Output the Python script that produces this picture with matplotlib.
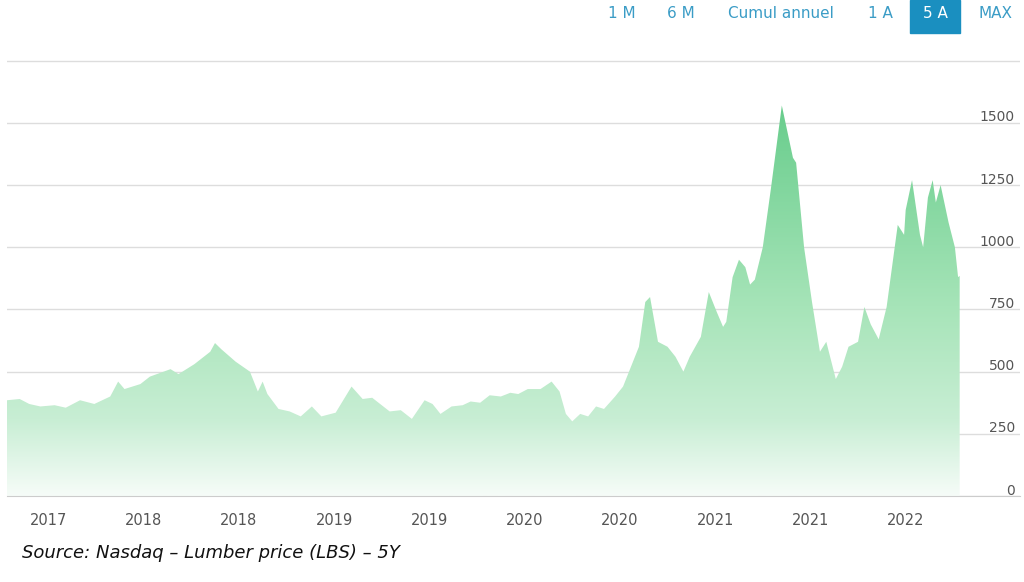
import numpy as np
import matplotlib
matplotlib.use("Agg")
import matplotlib.pyplot as plt
from matplotlib.colors import LinearSegmentedColormap
from matplotlib.patches import Rectangle
import matplotlib.transforms as mtransforms

# months since Jul 2017, lumber price
MONTHS = [0, 0.8, 1.4, 2.1, 3.0, 3.7, 4.6, 5.5, 6.5, 7.0, 7.4, 8.4, 9.0, 10.3, 10.8,
          11.8, 12.8, 13.1, 13.5, 14.4, 15.3, 15.8, 16.1, 16.4, 17.1, 17.8, 18.5,
          19.2, 19.8, 20.7, 21.7, 22.4, 23.0, 23.5, 24.1, 24.8, 25.5, 26.3, 26.8,
          27.3, 28.0, 28.7, 29.2, 29.8, 30.4, 31.1, 31.7, 32.2, 32.8, 33.6, 34.3,
          34.8, 35.2, 35.6, 36.1, 36.6, 37.1, 37.6, 38.3, 38.8, 39.3, 39.8, 40.2,
          40.5, 41.0, 41.6, 42.1, 42.6, 43.0, 43.7, 44.2, 44.7, 45.1, 45.3, 45.7,
          46.1, 46.5, 46.8, 47.1, 47.6, 48.1, 48.8, 49.5, 49.7, 50.2, 50.7, 51.2,
          51.6, 52.2, 52.6, 53.0, 53.6, 54.0, 54.4, 54.9, 55.4, 56.1, 56.5, 56.6,
          57.0, 57.5, 57.7, 58.0, 58.3, 58.5, 58.8, 59.3, 59.7, 59.9, 60.0]
PRICES = [385, 390, 370, 360, 365, 355, 385, 370, 400, 460, 430, 450, 480, 510, 490,
          530, 580, 615, 590, 540, 500, 420, 460, 410, 350, 340, 320, 360, 320,
          335, 440, 390, 395, 370, 340, 345, 310, 385, 370, 330, 360, 365, 380,
          375, 405, 400, 415, 410, 430, 430, 460, 420, 330, 300, 330, 320, 360,
          350, 400, 440, 520, 600, 780, 800, 620, 600, 560, 500, 560, 640, 820,
          740, 680, 700, 880, 950, 920, 850, 870, 1000, 1230, 1570, 1360, 1340,
          1000, 780, 580, 620, 470, 520, 600, 620, 760, 690, 630, 760, 1090, 1050,
          1150, 1270, 1050, 1000, 1200, 1270, 1180, 1250, 1100, 1000, 880, 885]

XTICK_POS = [2.6 + 6 * i for i in range(10)]
XTICK_LABELS = ["2017", "2018", "2018", "2019", "2019", "2020", "2020", "2021", "2021", "2022"]
YTICKS = [0, 250, 500, 750, 1000, 1250, 1500, 1750]
BUTTONS = ["1 M", "6 M", "Cumul annuel", "1 A", "5 A", "MAX"]
BUTTON_X = [622, 681, 781, 880, 935, 995]
ACTIVE = "5 A"

fig = plt.figure(figsize=(10.24, 5.82), dpi=100)
ax = fig.add_axes([7 / 1024, 1 - 496 / 582, (1020 - 7) / 1024, (496 - 60) / 582])
ax.set_xlim(0, 63.8)
ax.set_ylim(0, 1753)

# gradient fill clipped to the area
poly = ax.fill_between(MONTHS, PRICES, 0, color="none", lw=0)
cmap = LinearSegmentedColormap.from_list(
    "g", [(0, "#f6fcf8"), (0.18, "#c8eed4"), (0.45, "#a6e4b8"), (1, "#5ec985")])
grad = np.linspace(0, 1, 256).reshape(-1, 1)
im = ax.imshow(grad, cmap=cmap, origin="lower", aspect="auto",
               extent=[0, 60, 0, 1700], zorder=1)
path = poly.get_paths()[0]
im.set_clip_path(path, transform=ax.transData)

for y in YTICKS:
    ax.axhline(y, color="#dddddd", lw=1, zorder=0)

for s in ["top", "right", "left"]:
    ax.spines[s].set_visible(False)
ax.spines["bottom"].set_color("#cccccc")
ax.set_yticks([])
ax.set_xticks(XTICK_POS)
ax.set_xticklabels(XTICK_LABELS, color="#555555", fontsize=10.5)
ax.tick_params(axis="x", length=0, pad=12)

trans = mtransforms.blended_transform_factory(ax.transAxes, ax.transData)
for y in YTICKS[:-1]:
    ax.text(0.995, y + 22, str(y), transform=trans, ha="right", va="center",
            fontsize=10, color="#555555")

for lab, bx in zip(BUTTONS, BUTTON_X):
    col = "#3a9cc6"
    if lab == ACTIVE:
        fig.patches.append(Rectangle((910 / 1024, 1 - 33 / 582), 50 / 1024, 33 / 582,
                                     transform=fig.transFigure, color="#1a8fc0"))
        col = "white"
    fig.text(bx / 1024, 1 - 14 / 582, lab, ha="center", va="center",
             fontsize=11, color=col)

fig.text(22 / 1024, 1 - 553 / 582, "Source: Nasdaq \u2013 Lumber price (LBS) \u2013 5Y",
         fontsize=13, style="italic", va="center", color="#111111")

fig.savefig("out.png", dpi=100)
